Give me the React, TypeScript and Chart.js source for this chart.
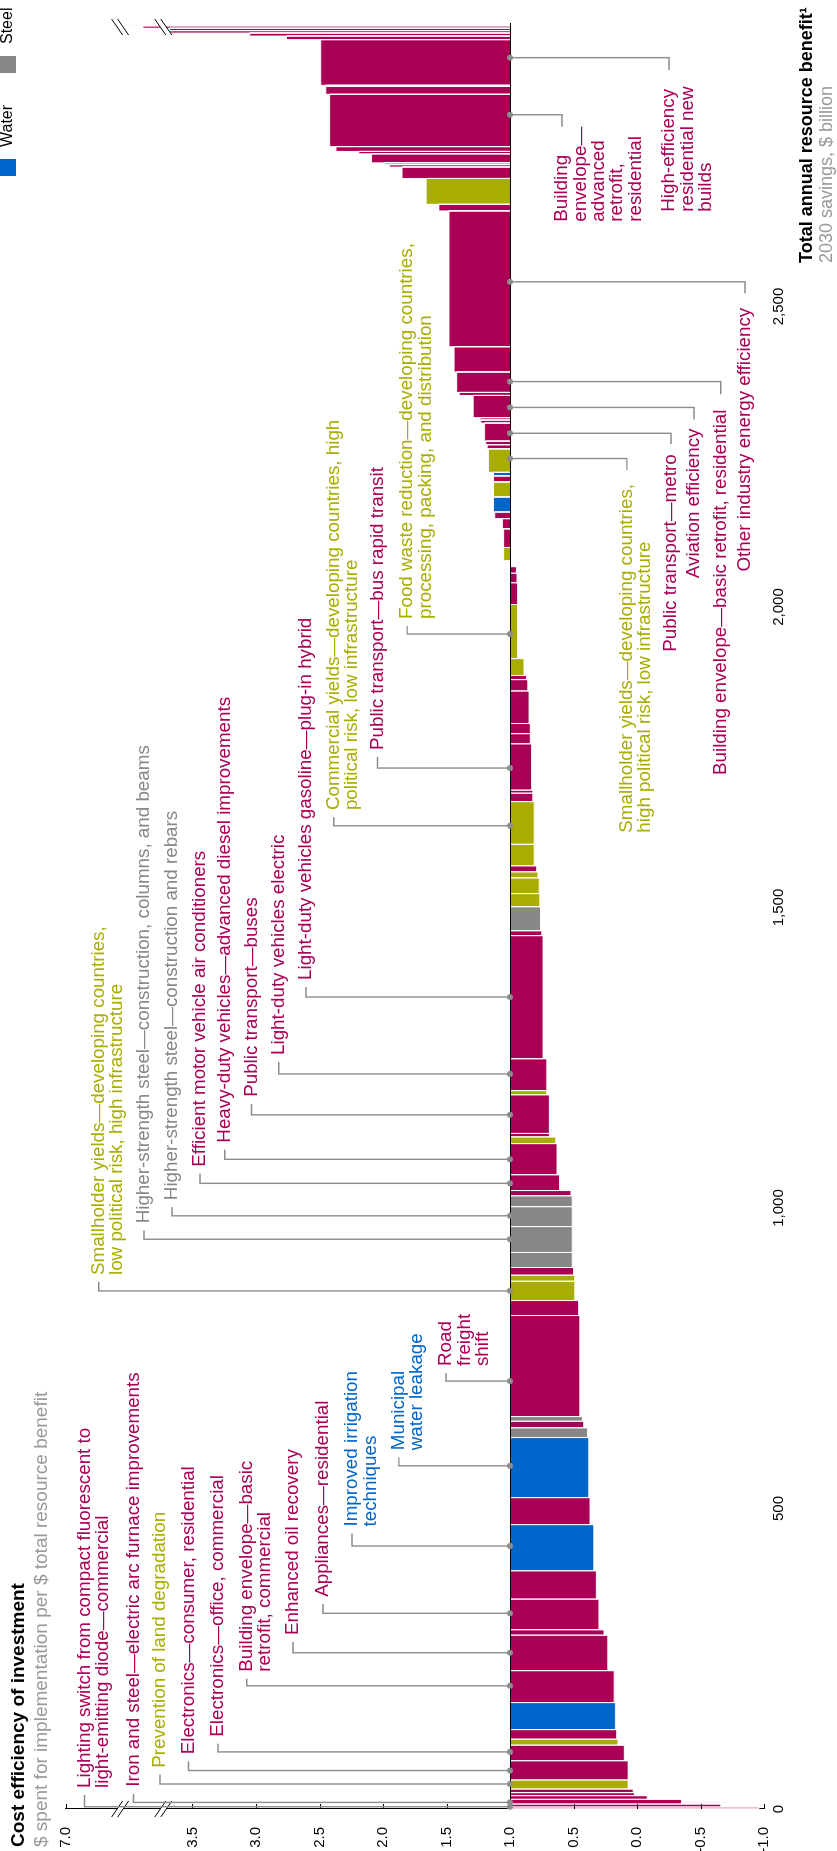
import React, { useEffect, useRef } from 'react';
import { Chart, registerables } from 'chart.js';

Chart.register(...registerables);

const FONT = 'Arial, "Liberation Sans", Helvetica, sans-serif';

// Resource type colours
const RESOURCE_COLORS: Record<string, string> = {
  E: '#A90056', // energy
  L: '#A8AD00', // land / food
  W: '#0066CC', // water
  S: '#878787', // steel
  O: '#DADADA', // other (light line at the top)
};

// Levers in cost order: annual benefit ($ billion), cost efficiency, resource
const leverBenefit = [
  3, 5, 8, 6, 5, 6, 15, 32, 26, 10, 16, 45, 53, 59, 9, 51, 47, 77, 45, 100,
  16, 11, 8, 168, 25, 32, 10, 13, 25, 43, 33, 18, 9, 26, 52, 11, 6, 64, 7, 53,
  205, 8, 40, 22, 26, 10, 10, 36, 71, 14, 5, 77, 17, 17, 54, 19, 7, 28, 90, 36,
  16, 11, 10, 22, 31, 17, 11, 25, 25, 10, 6, 39, 7, 6, 30, 5, 4, 37, 5, 34,
  42, 226, 11, 43, 19, 4, 3, 15, 4, 8, 87, 13, 2, 76, 6, 5, 4, 4, 4, 2,
];
// values past 3.5 are plotted on the broken part of the axis
const leverCost = [
  -0.96, -0.66, -0.35, -0.08, 0.02, 0.03, 0.07, 0.07, 0.1, 0.15, 0.16, 0.17, 0.18, 0.23, 0.26, 0.3, 0.32, 0.34, 0.37, 0.38,
  0.39, 0.42, 0.43, 0.45, 0.46, 0.49, 0.49, 0.5, 0.51, 0.51, 0.51, 0.51, 0.52, 0.61, 0.63, 0.64, 0.69, 0.69, 0.71, 0.71,
  0.74, 0.75, 0.76, 0.765, 0.77, 0.78, 0.79, 0.81, 0.81, 0.82, 0.82, 0.83, 0.84, 0.84, 0.85, 0.86, 0.87, 0.89, 0.94, 0.94,
  0.945, 0.95, 1.0, 1.05, 1.05, 1.06, 1.12, 1.13, 1.13, 1.13, 1.13, 1.17, 1.18, 1.19, 1.2, 1.23, 1.235, 1.29, 1.4, 1.42,
  1.44, 1.48, 1.56, 1.66, 1.85, 1.95, 1.99, 2.09, 2.19, 2.37, 2.42, 2.45, 2.45, 2.49, 2.76, 3.05, 3.68, 3.68, 3.89, 4.14,
];
const leverResource = [
  'E', 'E', 'E', 'E', 'E', 'E', 'L', 'E', 'E', 'L', 'E', 'W', 'E', 'E', 'E', 'E', 'E', 'W', 'E', 'W',
  'S', 'E', 'S', 'E', 'E', 'L', 'L', 'E', 'S', 'S', 'S', 'S', 'E', 'E', 'E', 'L', 'E', 'E', 'L', 'E',
  'E', 'E', 'S', 'L', 'L', 'L', 'E', 'L', 'L', 'E', 'E', 'E', 'E', 'E', 'E', 'E', 'E', 'L', 'L', 'E',
  'E', 'E', 'E', 'L', 'E', 'E', 'E', 'W', 'L', 'E', 'W', 'L', 'E', 'E', 'E', 'E', 'E', 'E', 'E', 'E',
  'E', 'E', 'E', 'L', 'E', 'E', 'E', 'E', 'E', 'E', 'E', 'E', 'E', 'E', 'E', 'E', 'E', 'E', 'E', 'O',
];

const costTicks = [-1, -0.5, 0, 0.5, 1, 1.5, 2, 2.5, 3, 3.5, 4.5];
const costTickLabels = ['-1.0', '-0.5', '0.0', '0.5', '1.0', '1.5', '2.0', '2.5', '3.0', '3.5', '7.0'];
const benefitTicks = [0, 500, 1000, 1500, 2000, 2500];
const axisBreaks = [3.73, 4.07];
const legendNames = ['Water', 'Steel'];
const legendKeys = ['W', 'S'];

// Labelled levers: dot = benefit position, at = cost level of first text line,
// start = benefit where text begins, end = where the leader stops (labels under the axis)
type Note = { lines: string[]; r: string; dot: number; at: number; start: number; end?: number };
const notes: Note[] = [
  { lines: ['Lighting switch from compact fluorescent to', 'light-emitting diode—commercial'], r: 'E', dot: 3.8, at: 4.35, start: 35 },
  { lines: ['Iron and steel—electric arc furnace improvements'], r: 'E', dot: 11, at: 3.965, start: 37 },
  { lines: ['Prevention of land degradation'], r: 'L', dot: 41.6, at: 3.756, start: 68.7 },
  { lines: ['Electronics—consumer, residential'], r: 'E', dot: 64, at: 3.531, start: 91 },
  { lines: ['Electronics—office, commercial'], r: 'E', dot: 95, at: 3.299, start: 120.3 },
  { lines: ['Building envelope—basic', 'retrofit, commercial'], r: 'E', dot: 205, at: 3.073, start: 228.5 },
  { lines: ['Enhanced oil recovery'], r: 'E', dot: 260, at: 2.709, start: 289.5 },
  { lines: ['Appliances—residential'], r: 'E', dot: 325.6, at: 2.472, start: 353 },
  { lines: ['Improved irrigation', 'techniques'], r: 'W', dot: 437.6, at: 2.244, start: 470 },
  { lines: ['Municipal', 'water leakage'], r: 'W', dot: 571, at: 1.875, start: 597 },
  { lines: ['Road', 'freight', 'shift'], r: 'E', dot: 712, at: 1.504, start: 737 },
  { lines: ['Smallholder yields—developing countries,', 'low political risk, high infrastructure'], r: 'L', dot: 862, at: 4.238, start: 888.5 },
  { lines: ['Higher-strength steel—construction, columns, and beams'], r: 'S', dot: 948, at: 3.882, start: 974.5 },
  { lines: ['Higher-strength steel—construction and rebars'], r: 'S', dot: 987, at: 3.661, start: 1013 },
  { lines: ['Efficient motor vehicle air conditioners'], r: 'E', dot: 1041, at: 3.441, start: 1068.7 },
  { lines: ['Heavy-duty vehicles—advanced diesel improvements'], r: 'E', dot: 1081, at: 3.246, start: 1108.7 },
  { lines: ['Public transport—buses'], r: 'E', dot: 1155, at: 3.035, start: 1185 },
  { lines: ['Light-duty vehicles electric'], r: 'E', dot: 1223, at: 2.821, start: 1254.6 },
  { lines: ['Light-duty vehicles gasoline—plug-in hybrid'], r: 'E', dot: 1351, at: 2.606, start: 1379.4 },
  { lines: ['Commercial yields—developing countries, high', 'political risk, low infrastructure'], r: 'L', dot: 1636, at: 2.388, start: 1662 },
  { lines: ['Public transport—bus rapid transit'], r: 'E', dot: 1732, at: 2.043, start: 1762 },
  { lines: ['Food waste reduction—developing countries,', 'processing, packing, and distribution'], r: 'L', dot: 1955, at: 1.81, start: 1980 },
  { lines: ['Smallholder yields—developing countries,', 'high political risk, low infrastructure'], r: 'L', dot: 2247, at: 0.08, start: 1624.5, end: 2228 },
  { lines: ['Public transport—metro'], r: 'E', dot: 2289, at: -0.268, start: 1925.6, end: 2271 },
  { lines: ['Aviation efficiency'], r: 'E', dot: 2332, at: -0.449, start: 2048, end: 2312 },
  { lines: ['Building envelope—basic retrofit, residential'], r: 'E', dot: 2375, at: -0.66, start: 1720.5, end: 2354 },
  { lines: ['Other industry energy efficiency'], r: 'E', dot: 2541, at: -0.85, start: 2059, end: 2522 },
  { lines: ['High-efficiency', 'residential new', 'builds'], r: 'E', dot: 2914, at: -0.252, start: 2657.6, end: 2893.5 },
  { lines: ['Building', 'envelope—', 'advanced', 'retrofit,', 'residential'], r: 'E', dot: 2819, at: 0.591, start: 2641, end: 2799 },
];

const W = 1851;
const H = 837;
const LINE_H = 18.4;
const LEADER = '#8C8C8C';

function drawBreak(ctx: CanvasRenderingContext2D, cx: number, cy: number, flip: boolean) {
  const d = flip ? -1 : 1;
  ctx.save();
  ctx.translate(cx, cy);
  ctx.fillStyle = '#fff';
  ctx.beginPath();
  ctx.moveTo(-8 * d, -5.5 - 3);
  ctx.lineTo(8 * d, 5.5 - 3);
  ctx.lineTo(8 * d, 5.5 + 3);
  ctx.lineTo(-8 * d, -5.5 + 3);
  ctx.closePath();
  ctx.fill();
  ctx.strokeStyle = '#000';
  ctx.lineWidth = 1;
  for (const off of [-3, 3]) {
    ctx.beginPath();
    ctx.moveTo(-8 * d, -5.5 + off);
    ctx.lineTo(8 * d, 5.5 + off);
    ctx.stroke();
  }
  ctx.restore();
}

const overlayPlugin = {
  id: 'overlay',
  afterDatasetsDraw(chart: any) {
    const { ctx, chartArea, scales } = chart;
    const x = scales.x;
    const y = scales.y;
    const y1 = y.getPixelForValue(1);
    ctx.save();

    // benefit axis at break-even (cost = 1.0)
    ctx.strokeStyle = '#000';
    ctx.lineWidth = 1;
    ctx.beginPath();
    ctx.moveTo(chartArea.left, Math.round(y1) + 0.5);
    ctx.lineTo(chartArea.right + 1, Math.round(y1) + 0.5);
    ctx.stroke();

    // inward ticks on the cost axis
    for (const t of costTicks) {
      const py = Math.round(y.getPixelForValue(t)) + 0.5;
      ctx.beginPath();
      ctx.moveTo(chartArea.left, py);
      ctx.lineTo(chartArea.left + 5, py);
      ctx.stroke();
    }

    // axis breaks (on the cost axis and across the tallest levers)
    const total = leverBenefit.reduce((a, b) => a + b, 0);
    for (const b of axisBreaks) {
      const py = y.getPixelForValue(b);
      drawBreak(ctx, chartArea.left, py, false);
      drawBreak(ctx, x.getPixelForValue(total - 4), py, true);
    }

    // leaders and labels
    for (const n of notes) {
      const xd = x.getPixelForValue(n.dot);
      const ye = y.getPixelForValue(n.at);
      const xs = x.getPixelForValue(n.start);
      const xe = n.end !== undefined ? x.getPixelForValue(n.end) : xs - 7;
      ctx.strokeStyle = LEADER;
      ctx.lineWidth = 1.4;
      ctx.beginPath();
      ctx.moveTo(xd, y1);
      ctx.lineTo(xd, ye);
      ctx.lineTo(xe, ye);
      ctx.stroke();
      ctx.fillStyle = LEADER;
      ctx.beginPath();
      ctx.arc(xd, y1, 3, 0, Math.PI * 2);
      ctx.fill();

      ctx.fillStyle = RESOURCE_COLORS[n.r];
      ctx.font = `18.8px ${FONT}`;
      ctx.textAlign = 'left';
      ctx.textBaseline = 'middle';
      n.lines.forEach((line, i) => ctx.fillText(line, xs, ye + i * LINE_H));
    }
    ctx.restore();
  },
  afterDraw(chart: any) {
    const { ctx } = chart;
    ctx.save();
    ctx.textAlign = 'left';
    ctx.textBaseline = 'middle';
    // value axis title
    ctx.fillStyle = '#000';
    ctx.font = `bold 19px ${FONT}`;
    ctx.fillText('Cost efficiency of investment', 4, 19);
    ctx.fillStyle = '#999';
    ctx.font = `19px ${FONT}`;
    ctx.fillText('$ spent for implementation per $ total resource benefit', 4, 42);
    // benefit axis title
    ctx.fillStyle = '#000';
    ctx.font = `bold 18px ${FONT}`;
    ctx.fillText('Total annual resource benefit¹', 1588, 807);
    ctx.fillStyle = '#999';
    ctx.font = `18px ${FONT}`;
    ctx.fillText('2030 savings, $ billion', 1588, 827);
    // legend (partial, as cropped in the original)
    const legendX = [1675, 1778];
    ctx.font = `16px ${FONT}`;
    legendNames.forEach((name, i) => {
      ctx.fillStyle = RESOURCE_COLORS[legendKeys[i]];
      ctx.fillRect(legendX[i], 0, 17, 16);
      ctx.fillStyle = '#000';
      ctx.fillText(name, legendX[i] + 29, 8);
    });
    ctx.restore();
  },
};

export default function App() {
  const canvasRef = useRef<HTMLCanvasElement | null>(null);

  useEffect(() => {
    document.documentElement.style.overflow = 'hidden';
    document.body.style.margin = '0';
    const canvas = canvasRef.current;
    if (!canvas) return;

    const starts: number[] = [];
    let acc = 0;
    for (const w of leverBenefit) {
      starts.push(acc);
      acc += w;
    }

    const datasets = leverBenefit.map((w, i) => {
      const s = starts[i];
      const e = s + w;
      const v = leverCost[i];
      return {
        data: [
          { x: s, y: 1 },
          { x: s, y: v },
          { x: e, y: v },
          { x: e, y: 1 },
        ],
        backgroundColor: RESOURCE_COLORS[leverResource[i]],
        borderColor: 'rgba(255,255,255,0.9)',
        borderWidth: 1,
        borderJoinStyle: 'miter' as const,
        fill: { value: 1 },
        pointRadius: 0,
        pointHoverRadius: 0,
        tension: 0,
      };
    });

    const chart = new Chart(canvas, {
      type: 'line',
      data: { datasets: datasets as any },
      options: {
        responsive: false,
        animation: false,
        devicePixelRatio: 1,
        events: [],
        layout: { padding: { top: 65.5, right: 24, left: 0, bottom: 0 } },
        plugins: { legend: { display: false }, tooltip: { enabled: false } },
        scales: {
          x: {
            type: 'linear',
            min: 0,
            max: 2970,
            grid: { display: false, drawTicks: false },
            border: { display: false },
            ticks: {
              autoSkip: false,
              maxRotation: 0,
              font: { size: 15, family: FONT },
              color: '#000',
              padding: 6,
              callback: (v: any) => Number(v).toLocaleString('en-US'),
            },
            afterBuildTicks: (s: any) => {
              s.ticks = benefitTicks.map((value) => ({ value }));
            },
            afterFit: (s: any) => {
              s.height = 73;
            },
          },
          y: {
            type: 'linear',
            min: -1,
            max: 4.5,
            grid: { display: false, drawTicks: false },
            border: { display: true, color: '#000', width: 1 },
            ticks: {
              autoSkip: false,
              font: { size: 15, family: FONT },
              color: '#000',
              padding: 18,
              callback: (_v: any, i: number) => costTickLabels[i],
            },
            afterBuildTicks: (s: any) => {
              s.ticks = costTicks.map((value) => ({ value }));
            },
            afterFit: (s: any) => {
              s.width = 42;
            },
          },
        },
      },
      plugins: [overlayPlugin],
    });

    return () => chart.destroy();
  }, []);

  return (
    <div
      style={{
        position: 'absolute',
        left: 0,
        top: 0,
        width: W,
        height: H,
        transformOrigin: '0 0',
        transform: `translateY(${W}px) rotate(-90deg)`,
        background: '#fff',
      }}
    >
      <canvas ref={canvasRef} width={W} height={H} style={{ display: 'block', width: W, height: H }} />
    </div>
  );
}
